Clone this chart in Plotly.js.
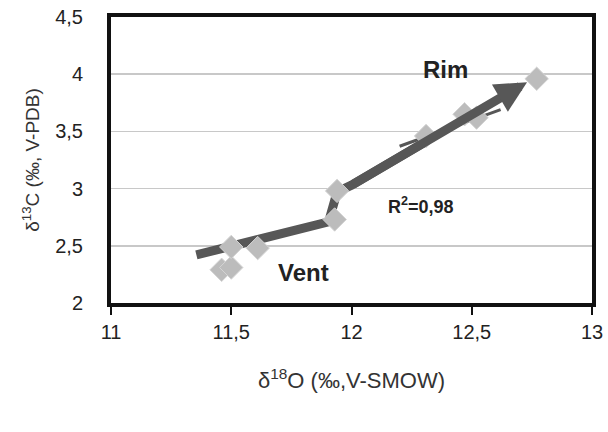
<!DOCTYPE html>
<html>
<head>
<meta charset="utf-8">
<script src="https://cdn.plot.ly/plotly-3.0.1.min.js"></script>
<style>html,body{margin:0;padding:0;background:#fff}#chart{width:608px;height:432px}</style>
</head>
<body>
<div id="chart"></div>
<script>
// Data points (δ18O, δ13C)
const d18O = [11.46, 11.50, 11.50, 11.61, 11.93, 11.94, 12.31, 12.47, 12.52, 12.77];
const d13C = [2.29, 2.31, 2.49, 2.48, 2.73, 2.98, 3.46, 3.65, 3.62, 3.96];
// Hand-drawn trend arrow path
const arrowX = [11.355, 11.905, 11.94, 12.0, 12.3];
const arrowY = [2.42, 2.71, 2.97, 3.03, 3.40];
const arrowTailX = 12.0, arrowTailY = 3.03;
const arrowTipX = 12.73, arrowTipY = 3.93;
// Secondary thin arrow stroke
const thinX = [12.20, 12.62];
const thinY = [3.37, 3.69];
// Axis ticks
const xTicks = [11, 11.5, 12, 12.5, 13];
const xTickText = ['11', '11,5', '12', '12,5', '13'];
const yTicks = [2, 2.5, 3, 3.5, 4, 4.5];
const yTickText = ['2', '2,5', '3', '3,5', '4', '4,5'];
// Labels
const labels = [
  {text: 'Rim', x: 12.39, y: 4.04, size: 24},
  {text: 'Vent', x: 11.80, y: 2.27, size: 24},
  {text: 'R<sup>2</sup>=0,98', x: 12.29, y: 2.85, size: 18}
];

const font = 'Liberation Sans, Arial, sans-serif';
const arrowColor = '#575757';

const traces = [
  {x: thinX, y: thinY, mode: 'lines', line: {color: arrowColor, width: 3}, hoverinfo: 'skip', showlegend: false},
  {x: arrowX, y: arrowY, mode: 'lines', line: {color: arrowColor, width: 9}, hoverinfo: 'skip', showlegend: false},
  {x: d18O, y: d13C, mode: 'markers', showlegend: false,
   marker: {symbol: 'diamond', size: 18, color: '#bcbcbc', line: {color: '#d4d4d4', width: 1}}}
];

const annotations = [
  {x: arrowTipX, y: arrowTipY, xref: 'x', yref: 'y', ax: arrowTailX, ay: arrowTailY,
   axref: 'x', ayref: 'y', showarrow: true, arrowhead: 2, arrowwidth: 9, arrowsize: 0.7, arrowcolor: arrowColor, text: ''}
].concat(labels.map(l => ({x: l.x, y: l.y, xref: 'x', yref: 'y', text: '<b>' + l.text + '</b>', showarrow: false,
   font: {family: font, size: l.size, color: '#222'}})));

const layout = {
  width: 608, height: 432,
  margin: {l: 111, r: 16, t: 17, b: 129},
  paper_bgcolor: '#fff', plot_bgcolor: '#fff',
  showlegend: false,
  font: {family: font, color: '#222', size: 20},
  xaxis: {range: [11, 13], tickvals: xTicks, ticktext: xTickText, showgrid: false, zeroline: false,
    showline: true, linewidth: 4, linecolor: '#111', mirror: true,
    ticks: 'outside', ticklen: 8, tickwidth: 2, tickcolor: '#111',
    tickfont: {family: font, size: 20, color: '#222'},
    title: {text: 'δ<sup>18</sup>O (‰,V-SMOW)', font: {family: font, size: 22, color: '#333'}, standoff: 32}},
  yaxis: {range: [2, 4.5], tickvals: yTicks, ticktext: yTickText, showgrid: true, gridcolor: '#c8c8c8', gridwidth: 1.5,
    zeroline: false, showline: true, linewidth: 4, linecolor: '#111', mirror: true,
    ticks: '', ticklabelstandoff: 20,
    tickfont: {family: font, size: 20, color: '#222'},
    title: {text: 'δ<sup>13</sup>C (‰, V-PDB)', font: {family: font, size: 19, color: '#333'}, standoff: 12}},
  annotations: annotations
};

Plotly.newPlot('chart', traces, layout, {displayModeBar: false, staticPlot: true});
</script>
</body>
</html>
